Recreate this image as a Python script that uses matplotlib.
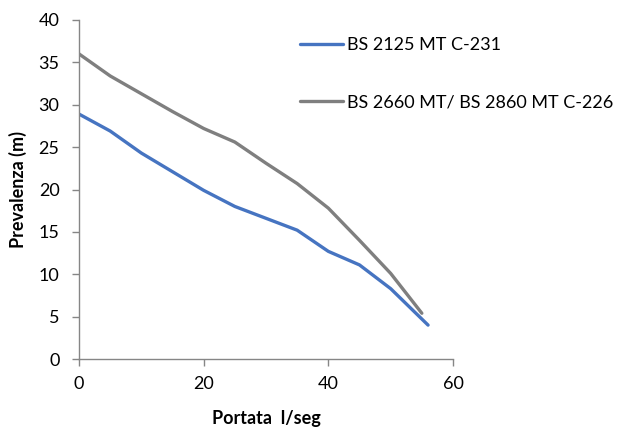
import matplotlib.pyplot as plt

# pump curves
portata_a = [0, 5, 10, 15, 20, 25, 30, 35, 40, 45, 50, 56]
prevalenza_a = [28.9, 26.9, 24.3, 22.1, 19.9, 18.0, 16.6, 15.2, 12.7, 11.1, 8.3, 4.0]

portata_b = [0, 5, 10, 15, 20, 25, 30, 35, 40, 45, 50, 55]
prevalenza_b = [36.0, 33.4, 31.3, 29.2, 27.2, 25.6, 23.1, 20.7, 17.8, 14.0, 10.1, 5.4]

label_a = 'BS 2125 MT C-231'
label_b = 'BS 2660 MT/ BS 2860 MT C-226'

plt.rcParams['font.family'] = ['Lato', 'DejaVu Sans']

fig = plt.figure(figsize=(6.23, 4.32), dpi=100)
ax = fig.add_axes([79 / 623, 1 - 359 / 432, 374 / 623, 339 / 432])

ax.plot(portata_a, prevalenza_a, color='#4674C1', lw=2.4,
        solid_capstyle='round', solid_joinstyle='round', label=label_a)
ax.plot(portata_b, prevalenza_b, color='#7F7F7F', lw=2.4,
        solid_capstyle='round', solid_joinstyle='round', label=label_b)

ax.set_xlim(0, 60)
ax.set_ylim(0, 40)
ax.set_xticks([0, 20, 40, 60])
ax.set_yticks(range(0, 41, 5))

for s in ['top', 'right']:
    ax.spines[s].set_visible(False)
for s in ['left', 'bottom']:
    ax.spines[s].set_color('#868686')
    ax.spines[s].set_linewidth(1.0)
ax.tick_params(colors='#868686', labelcolor='black', labelsize=13,
               length=5, width=1.0)
ax.tick_params(axis='x', pad=7)
ax.tick_params(axis='y', pad=9)

ax.set_xlabel('Portata  l/seg', fontsize=13, fontweight='bold', labelpad=13)
ax.set_ylabel('Prevalenza (m)', fontsize=13, fontweight='bold', labelpad=8)

fig.legend(loc='upper left', bbox_to_anchor=(300 / 623, 1 - 37 / 432),
           frameon=False, fontsize=13, handlelength=2.4, handletextpad=0.2,
           labelspacing=2.3, borderaxespad=0, borderpad=0)

fig.savefig('out.png', dpi=100)
